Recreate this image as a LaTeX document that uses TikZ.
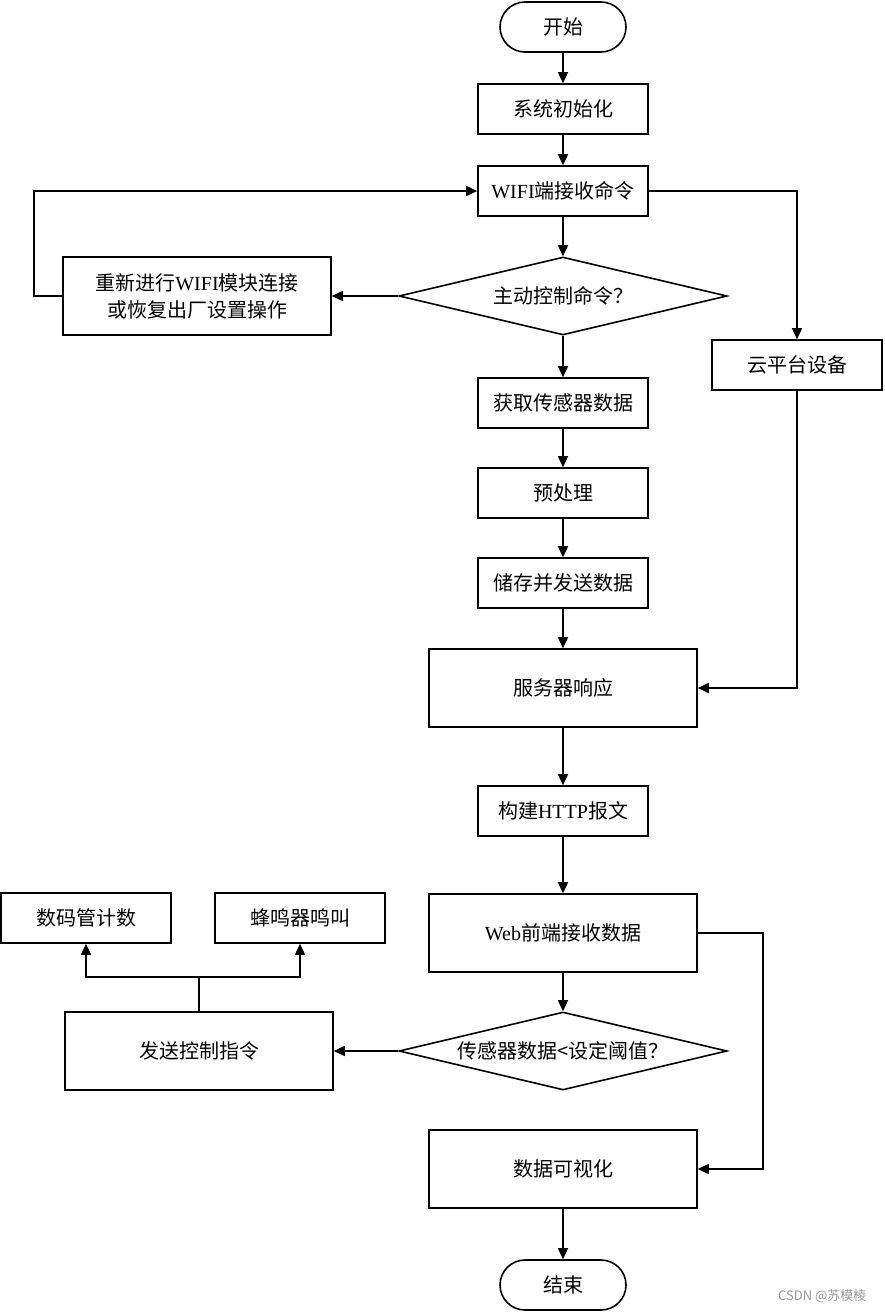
\documentclass[tikz,border=0pt]{standalone}
\usepackage{fontspec}
\setmainfont{Liberation Serif}
\newfontfamily\cjk{Noto Sans CJK SC}
\usepackage{tikz}
\usetikzlibrary{arrows.meta,shapes.geometric}
\newcommand{\en}[1]{{\rmfamily #1}}

\begin{document}
\begin{tikzpicture}[x=1pt,y=-1pt,
		box/.style={draw, line width=1.6pt, minimum width=170pt, minimum height=50pt, inner sep=2pt, font=\cjk\fontsize{20}{27}\selectfont},
		bigbox/.style={box, minimum width=268pt, minimum height=78pt},
		term/.style={box, minimum width=126pt, rounded corners=25pt},
		cond/.style={draw, diamond, aspect=4.2, line width=1.6pt, minimum width=328pt, minimum height=78pt, inner sep=0pt, font=\cjk\fontsize{20}{27}\selectfont},
		arr/.style={line width=1.6pt, -{Triangle[length=11pt,width=10pt]}},
		ln/.style={line width=1.6pt}]
		\useasboundingbox (0,0) rectangle (884,1312);

		% main column
		\node[term] (start) at (563,27) {开始};
		\node[box] (init) at (563,109) {系统初始化};
		\node[box] (wifi) at (563,191) {\en{WIFI}端接收命令};
		\node[cond] (ask) at (563,296) {主动控制命令？};
		\node[bigbox, align=center] (redo) at (197,296) {重新进行\en{WIFI}模块连接\\或恢复出厂设置操作};
		\node[box] (cloud) at (797,365) {云平台设备};
		\node[box] (fetch) at (563,403) {获取传感器数据};
		\node[box] (prep) at (563,493) {预处理};
		\node[box] (save) at (563,583) {储存并发送数据};
		\node[bigbox] (server) at (563,688) {服务器响应};
		\node[box] (http) at (563,811) {构建\en{HTTP}报文};
		\node[bigbox] (web) at (563,933) {\en{Web}前端接收数据};
		\node[cond] (thr) at (563,1051) {传感器数据<设定阈值？};
		\node[bigbox] (send) at (199,1051) {发送控制指令};
		\node[box] (tube) at (86,918) {数码管计数};
		\node[box] (buzz) at (300,918) {蜂鸣器鸣叫};
		\node[bigbox] (show) at (563,1169) {数据可视化};
		\node[term] (stop) at (563,1285) {结束};

		% connectors
		\draw[arr] (start) -- (init);
		\draw[arr] (init) -- (wifi);
		\draw[arr] (wifi) -- (ask);
		\draw[arr] (ask) -- (redo);
		\draw[arr] (redo.west) -- ++(-28,0) |- (wifi.west);
		\draw[arr] (wifi.east) -| (cloud.north);
		\draw[arr] (ask) -- (fetch);
		\draw[arr] (fetch) -- (prep);
		\draw[arr] (prep) -- (save);
		\draw[arr] (save) -- (server);
		\draw[arr] (cloud.south) |- (server.east);
		\draw[arr] (server) -- (http);
		\draw[arr] (http) -- (web);
		\draw[arr] (web.east) -- ++(65,0) |- (show.east);
		\draw[arr] (web) -- (thr);
		\draw[arr] (thr) -- (send);
		\draw[ln] (send.north) -- ++(0,-34) coordinate (fork);
		\draw[arr] (fork) -| (tube.south);
		\draw[arr] (fork) -| (buzz.south);
		\draw[arr] (show) -- (stop);

		\node[anchor=east, text=black!40, font=\cjk\fontsize{13}{15}\selectfont] (mark) at (870,1296) {CSDN @苏模棱};
	\end{tikzpicture}
\end{document}
